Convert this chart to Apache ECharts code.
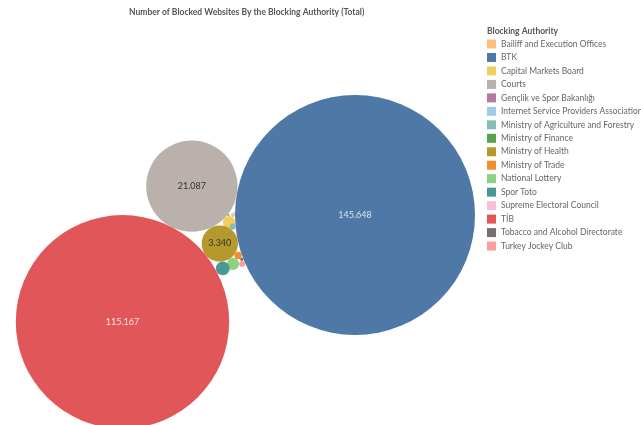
<!DOCTYPE html>
<html><head><meta charset="utf-8">
<script src="https://cdn.jsdelivr.net/npm/echarts@6/dist/echarts.min.js"></script>
<style>html,body{margin:0;padding:0;background:#fff}#c{width:641px;height:425px}</style>
</head><body><div id="c"></div>
<script>
// ---- data ----
const authorities = ['Bailiff and Execution Offices','BTK','Capital Markets Board','Courts','Gençlik ve Spor Bakanlığı','Internet Service Providers Association','Ministry of Agriculture and Forestry','Ministry of Finance','Ministry of Health','Ministry of Trade','National Lottery','Spor Toto','Supreme Electoral Council','TİB','Tobacco and Alcohol Directorate','Turkey Jockey Club'];
const blocked = [40, 145648, 380, 21087, 3, 6, 90, 10, 3340, 140, 380, 480, 2, 115167, 25, 90];
const colors = ['#FFBE7D','#4E79A7','#F1CE63','#BAB0AC','#B07AA1','#A0CBE8','#86BCB6','#59A14F','#B6992D','#F28E2B','#8CD17D','#499894','#FABFD2','#E15759','#79706E','#FF9D9A'];

// ---- packed-bubble layout (tangent placement) ----
const W = 641, H = 425;
const maxR = 120;
const k = maxR / Math.sqrt(Math.max(...blocked));
const R = {}; authorities.forEach((a,i)=>R[a]=k*Math.sqrt(blocked[i]));
const P = {};
function tangent(A,B,r,s){
  const dx=B.x-A.x, dy=B.y-A.y, D=Math.hypot(dx,dy);
  const a=A.r+r, b=B.r+r;
  const u=(a*a-b*b+D*D)/(2*D);
  const h=Math.sqrt(Math.max(0,a*a-u*u));
  const ex=dx/D, ey=dy/D, nx=-ey, ny=ex;
  return {x:A.x+u*ex+s*h*nx, y:A.y+u*ey+s*h*ny, r:r};
}
P['BTK'] = {x:355, y:215, r:R['BTK']};
const ang = Math.atan2(-29,-164);
P['Courts'] = {x:P['BTK'].x+(R['BTK']+R['Courts'])*Math.cos(ang), y:P['BTK'].y+(R['BTK']+R['Courts'])*Math.sin(ang), r:R['Courts']};
const plan = [
  ['Ministry of Health','BTK','Courts',-1],
  ['Capital Markets Board','BTK','Courts',-1],
  ['TİB','Courts','Ministry of Health',1],
  ['Bailiff and Execution Offices','BTK','Capital Markets Board',1],
  ['Ministry of Agriculture and Forestry','BTK','Ministry of Health',1],
  ['Ministry of Trade','BTK','Ministry of Health',-1],
  ['Tobacco and Alcohol Directorate','BTK','Ministry of Trade',-1],
  ['Turkey Jockey Club','BTK','Tobacco and Alcohol Directorate',-1],
  ['National Lottery','Ministry of Health','Ministry of Trade',1],
  ['Spor Toto','TİB','Ministry of Health',1],
  ['Internet Service Providers Association','BTK','Bailiff and Execution Offices',1],
  ['Ministry of Finance','Courts','Capital Markets Board',-1],
  ['Gençlik ve Spor Bakanlığı','Spor Toto','National Lottery',1],
  ['Supreme Electoral Council','Turkey Jockey Club','National Lottery',1]
];
plan.forEach(([n,a,b,s])=>{ P[n]=tangent(P[a],P[b],R[n],s); });

function fmt(v){ return String(v).replace(/\B(?=(\d{3})+(?!\d))/g,'.'); }
const lightLabel = {'BTK':'rgba(255,255,255,0.78)','TİB':'rgba(255,255,255,0.85)'};

const series = authorities.map((name,i)=>({
  name, type:'scatter', clip:false, silent:true,
  symbol:'circle',
  data:[[P[name].x, P[name].y, blocked[i]]],
  symbolSize: 2*R[name],
  itemStyle:{color:colors[i], opacity:1},
  label:{show:R[name]>14, position:'inside', formatter:p=>fmt(p.value[2]),
    color: lightLabel[name]||'#333', fontSize:9, fontFamily:'Lato'}
}));

const chart = echarts.init(document.getElementById('c'), null, {renderer:'canvas'});
chart.setOption({
  animation:false,
  backgroundColor:'#fff',
  title:[
    {text:'Number of Blocked Websites By the Blocking Authority (Total)', left:124, top:3,
     textStyle:{fontSize:8.5, fontWeight:'bold', color:'#555', fontFamily:'Lato'}},
    {text:'Blocking Authority', left:482, top:22,
     textStyle:{fontSize:8.5, fontWeight:'bold', color:'#555', fontFamily:'Lato'}}
  ],
  grid:{left:0,right:0,top:0,bottom:0},
  xAxis:{type:'value', min:0, max:W, show:false},
  yAxis:{type:'value', min:0, max:H, inverse:true, show:false},
  legend:{orient:'vertical', left:482, top:34.5, icon:'rect', itemWidth:9, itemHeight:9, itemGap:4.47,
    selectedMode:false, data:authorities,
    textStyle:{fontSize:8.5, color:'#666', fontFamily:'Lato', padding:[0,0,0,0]}},
  series
});
</script></body></html>
